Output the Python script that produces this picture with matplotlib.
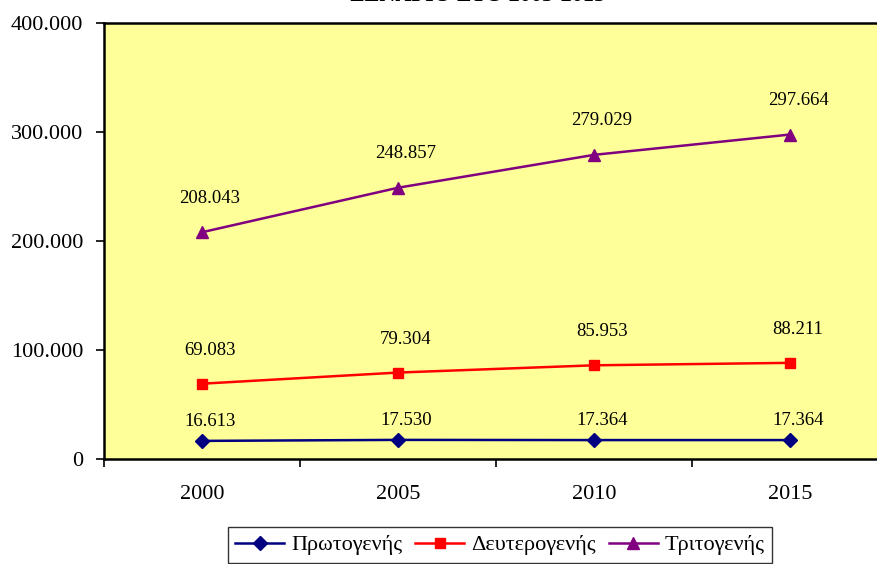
import matplotlib
matplotlib.use("Agg")
import matplotlib.pyplot as plt
from matplotlib.ticker import FuncFormatter, FixedLocator, NullFormatter

years = ["2000", "2005", "2010", "2015"]
primary = [16613, 17530, 17364, 17364]
secondary = [69083, 79304, 85953, 88211]
tertiary = [208043, 248857, 279029, 297664]
series_names = ["Πρωτογενής", "Δευτερογενής", "Τριτογενής"]
title = "ΣΕΝΑΡΙΟ ΣΤΟ 2005-2015"
yticks = [0, 100000, 200000, 300000, 400000]

plt.rcParams['font.family'] = ['Liberation Serif', 'DejaVu Serif']

W, H = 878, 564
fig = plt.figure(figsize=(W / 100, H / 100), dpi=100)
ax = fig.add_axes([104 / W, (H - 459) / H, 784 / W, 436 / H])
ax.set_facecolor('#FFFF99')

x = list(range(len(years)))
styles = [
    (primary, '#000080', 'D', 7, 14.0),
    (secondary, '#FF0000', 's', 7, 24.0),
    (tertiary, '#800080', '^', 8, 24.5),
]
handles = []
for (vals, col, mk, ms, dy), name in zip(styles, series_names):
    h, = ax.plot(x, vals, color=col, marker=mk, markersize=ms, linewidth=1.8,
                 markeredgecolor=col, label=name, clip_on=False)
    handles.append(h)
    for xi, v in zip(x, vals):
        lbl = f"{v:,}".replace(",", ".")
        ax.annotate(lbl, (xi, v), xytext=(5.8, dy), textcoords='offset points',
                    ha='center', va='center', fontsize=13.5, color='black')

ax.set_xlim(-0.5, len(years) - 0.5)
ax.set_ylim(0, 400000)
ax.yaxis.set_major_locator(FixedLocator(yticks))
ax.yaxis.set_major_formatter(FuncFormatter(lambda v, p: f"{int(v):,}".replace(",", ".")))
ax.set_xticks([i + 0.5 for i in range(-1, len(years))])
ax.xaxis.set_major_formatter(NullFormatter())
ax.set_xticks(x, minor=True)
ax.set_xticklabels(years, minor=True)
ax.tick_params(axis='x', which='minor', length=0, pad=19, labelsize=16)
ax.tick_params(axis='x', which='major', length=6, width=1.2, direction='out')
ax.tick_params(axis='y', length=6, width=1.2, direction='out', pad=9, labelsize=16)

for s in ax.spines.values():
    s.set_color('black')
    s.set_linewidth(1.8)

fig.text(478 / W, 1 - 0.6 / H, title, ha='center', va='baseline', fontsize=16,
         fontweight='bold')

leg = fig.legend(handles=handles, labels=series_names, loc='upper center',
                 bbox_to_anchor=(500 / W, 1 - 527 / H), ncol=3, fontsize=16,
                 frameon=True, fancybox=False, edgecolor='black',
                 handlelength=2.2, handletextpad=0.3, columnspacing=0.6,
                 borderpad=0.35, borderaxespad=0)
leg.get_frame().set_linewidth(1.0)

fig.savefig("out.png", dpi=100)
